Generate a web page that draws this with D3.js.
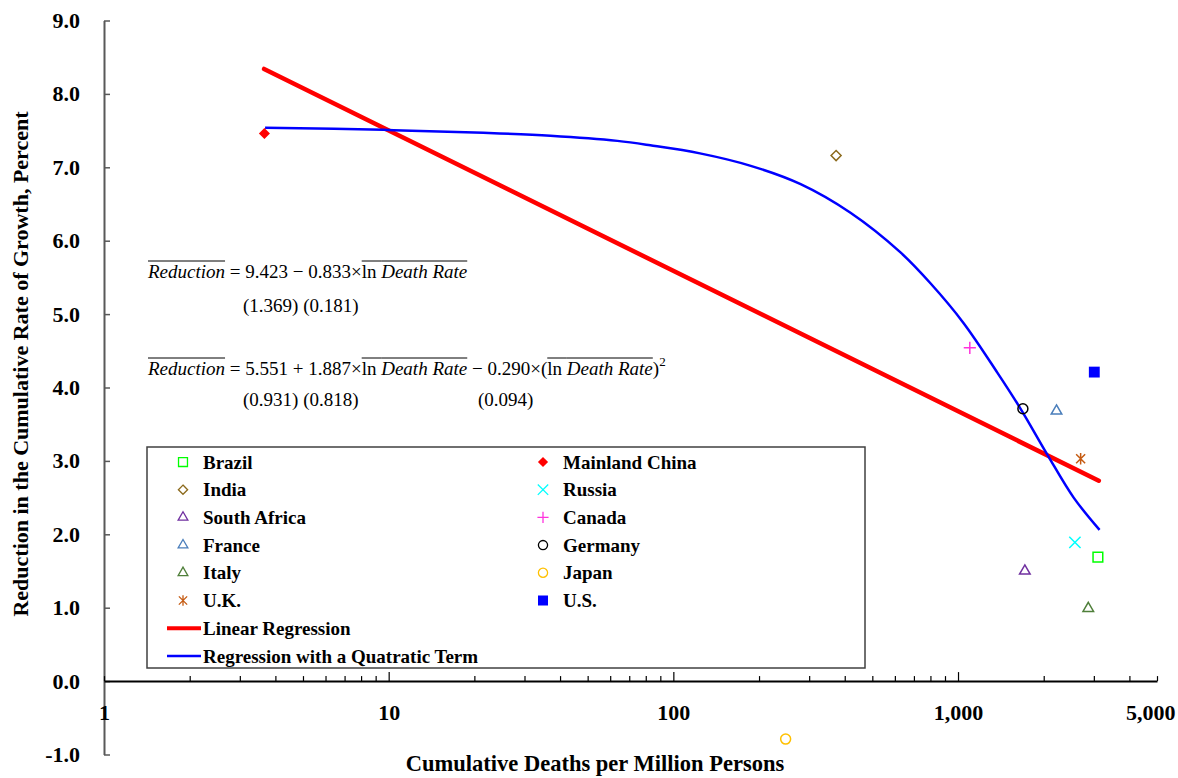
<!DOCTYPE html>
<html lang="en">
<head>
  <meta charset="UTF-8">
  <title>Reduction vs Cumulative Deaths</title>
  <script src="https://cdn.jsdelivr.net/npm/d3@7/dist/d3.min.js"></script>
  <style>
    body { margin: 0; background: #fff; }
    text { font-family: 'Liberation Serif', 'Times New Roman', serif; }
  </style>
</head>
<body>
  <div id="wrapper"></div>
  <script>
    // values
    const countries = ['Brazil', 'Mainland China', 'India', 'Russia', 'South Africa', 'Canada',
                       'France', 'Germany', 'Italy', 'Japan', 'U.K.', 'U.S.']
    const deathsPerMillion = [3100, 3.66, 373, 2574, 1717, 1100, 2218, 1690, 2868, 248, 2696, 3011]
    const reduction = [1.69, 7.46, 7.16, 1.89, 1.50, 4.54, 3.68, 3.71, 0.99, -0.79, 3.03, 4.21]

    // fitted lines
    const linearX = [3.65, 3123]
    const linearY = [8.34, 2.73]
    const quadX = [3.68, 9.56, 21.5, 37, 63.6, 83, 124, 187, 280, 419, 628, 800, 1045, 1376, 1659, 2064, 2548, 3142]
    const quadY = [7.54, 7.51, 7.47, 7.43, 7.36, 7.30, 7.19, 7.02, 6.77, 6.38, 5.84, 5.42, 4.88, 4.20, 3.71, 3.08, 2.50, 2.06]

    const yTicks = [-1, 0, 1, 2, 3, 4, 5, 6, 7, 8, 9]
    const xLabels = [1, 10, 100, 1000, 5000]
    const xMajor = [10, 100, 1000]

    // excel-style star: an X with a vertical bar
    const symbolStar = {
      draw(ctx, size) {
        const r = Math.sqrt(size) * 0.55
        const d = r * 0.78
        ctx.moveTo(0, -r); ctx.lineTo(0, r)
        ctx.moveTo(-d, -d); ctx.lineTo(d, d)
        ctx.moveTo(-d, d); ctx.lineTo(d, -d)
      }
    }

    const markerStyle = {
      'Brazil':         { symbol: d3.symbolSquare2,   size: 120, stroke: '#00ff00', fill: 'none' },
      'Mainland China': { symbol: d3.symbolDiamond2,  size: 78,  stroke: 'none',    fill: '#ff0000' },
      'India':          { symbol: d3.symbolDiamond2,  size: 64,  stroke: '#8c6a1c', fill: 'none' },
      'Russia':         { symbol: d3.symbolTimes,     size: 85,  stroke: '#00ffff', fill: 'none' },
      'South Africa':   { symbol: d3.symbolTriangle2, size: 80,  stroke: '#7030a0', fill: 'none' },
      'Canada':         { symbol: d3.symbolPlus,      size: 50,  stroke: '#ff33dd', fill: 'none' },
      'France':         { symbol: d3.symbolTriangle2, size: 80,  stroke: '#4a7ebb', fill: 'none' },
      'Germany':        { symbol: d3.symbolCircle,    size: 78,  stroke: '#000000', fill: 'none' },
      'Italy':          { symbol: d3.symbolTriangle2, size: 80,  stroke: '#4f7f3a', fill: 'none' },
      'Japan':          { symbol: d3.symbolCircle,    size: 78,  stroke: '#ffc000', fill: 'none' },
      'U.K.':           { symbol: symbolStar,         size: 110, stroke: '#c55a11', fill: 'none' },
      'U.S.':           { symbol: d3.symbolSquare,    size: 118, stroke: 'none',    fill: '#0000ff' }
    }

    const width = 1178
    const height = 778

    const svg = d3.select('#wrapper').append('svg')
      .attr('width', width)
      .attr('height', height)

    const x = d3.scaleLog().domain([1, 5000]).range([104, 1157])
    const y = d3.scaleLinear().domain([-1, 9]).range([754.5, 20.5])

    // y axis, ticks point inward, labels on the left
    const yAxis = svg.append('g')
      .attr('transform', `translate(${x(1)},0)`)
      .call(d3.axisLeft(y).tickValues(yTicks).tickSizeInner(-6).tickSizeOuter(0).tickPadding(24)
        .tickFormat(d => d.toFixed(1)))
    yAxis.select('.domain').attr('stroke', '#595959').attr('stroke-width', 2)
    yAxis.selectAll('.tick line').attr('stroke', '#595959').attr('stroke-width', 1.5)
    yAxis.selectAll('.tick text')
      .style('font-size', '22px').style('font-weight', 'bold').attr('fill', '#000')
      .attr('font-family', null)

    // x axis at zero
    const xAxis = svg.append('g')
      .attr('transform', `translate(0,${y(0)})`)
      .call(d3.axisBottom(x).tickValues(x.ticks()).tickSizeInner(-5).tickSizeOuter(0).tickPadding(23)
        .tickFormat(d => xLabels.includes(d) ? d3.format(',')(d) : ''))
    xAxis.select('.domain').attr('stroke', '#000').attr('stroke-width', 2)
    xAxis.selectAll('.tick line').attr('stroke', '#000').attr('stroke-width', 1.2)
      .filter(d => xMajor.includes(d)).attr('y2', -9)
    xAxis.selectAll('.tick text')
      .style('font-size', '22px').style('font-weight', 'bold').attr('fill', '#000')
      .attr('font-family', null)
    // last label sits inside the page
    xAxis.selectAll('.tick text').filter(d => d === 5000)
      .attr('text-anchor', 'end').attr('x', 18)

    // axis titles
    svg.append('text')
      .attr('x', 595).attr('y', 771)
      .attr('text-anchor', 'middle')
      .style('font-size', '22.5px').style('font-weight', 'bold')
      .text('Cumulative Deaths per Million Persons')

    svg.append('text')
      .attr('transform', 'translate(20,364) rotate(-90)')
      .attr('text-anchor', 'middle')
      .attr('dy', '0.35em')
      .style('font-size', '22px').style('font-weight', 'bold')
      .text('Reduction in the Cumulative Rate of Growth, Percent')

    // regression lines
    const line = d3.line().x(d => x(d[0])).y(d => y(d[1]))
    svg.append('path')
      .attr('d', line(d3.zip(linearX, linearY)))
      .attr('fill', 'none').attr('stroke', '#ff0000').attr('stroke-width', 4.5)
      .attr('stroke-linecap', 'round')

    svg.append('path')
      .attr('d', line.curve(d3.curveCatmullRom.alpha(0.5))(d3.zip(quadX, quadY)))
      .attr('fill', 'none').attr('stroke', '#0000ff').attr('stroke-width', 2.5)

    // points
    const sym = d3.symbol()
    svg.append('g').selectAll('path')
      .data(countries)
      .join('path')
      .attr('transform', (d, i) => `translate(${x(deathsPerMillion[i])},${y(reduction[i])})`)
      .attr('d', d => sym.type(markerStyle[d].symbol).size(markerStyle[d].size)())
      .attr('fill', d => markerStyle[d].fill)
      .attr('stroke', d => markerStyle[d].stroke)
      .attr('stroke-width', 1.5)

    // equations
    function drawEquation(px, py, parts) {
      const g = svg.append('g')
      let cursor = px
      parts.forEach(p => {
        const t = g.append('text')
          .attr('x', cursor)
          .attr('y', p.sup ? py - 9 : py)
          .style('font-size', p.sup ? '13px' : '19px')
          .style('font-style', p.it ? 'italic' : 'normal')
          .style('white-space', 'pre')
          .text(p.t)
        const w = t.node().getComputedTextLength()
        if (p.ol) {
          g.append('line')
            .attr('x1', cursor).attr('x2', cursor + w)
            .attr('y1', py - 17).attr('y2', py - 17)
            .attr('stroke', '#000').attr('stroke-width', 1)
        }
        cursor += w
      })
    }

    drawEquation(148, 278, [
      { t: 'Reduction', it: true, ol: true },
      { t: ' = 9.423 \u2212 0.833\u00d7' },
      { t: 'ln ', ol: true },
      { t: 'Death Rate', it: true, ol: true }
    ])
    drawEquation(243, 312, [{ t: '(1.369) (0.181)' }])

    drawEquation(148, 375, [
      { t: 'Reduction', it: true, ol: true },
      { t: ' = 5.551 + 1.887\u00d7' },
      { t: 'ln ', ol: true },
      { t: 'Death Rate', it: true, ol: true },
      { t: ' \u2212 0.290\u00d7(' },
      { t: 'ln ', ol: true },
      { t: 'Death Rate', it: true, ol: true },
      { t: ')' },
      { t: '2', sup: true }
    ])
    drawEquation(243, 406, [{ t: '(0.931) (0.818)' }])
    drawEquation(478, 406, [{ t: '(0.094)' }])

    // legend
    const legend = svg.append('g')
    legend.append('rect')
      .attr('x', 147).attr('y', 447).attr('width', 718).attr('height', 221)
      .attr('fill', 'none').attr('stroke', '#404040').attr('stroke-width', 1.5)

    const rowY = i => 462 + i * 27.7
    const item = legend.selectAll('g.item')
      .data(countries)
      .join('g')
      .attr('class', 'item')
      .attr('transform', (d, i) => `translate(${i % 2 === 0 ? 183 : 543},${rowY(Math.floor(i / 2))})`)
    item.append('path')
      .attr('d', d => sym.type(markerStyle[d].symbol).size(markerStyle[d].size * 0.85)())
      .attr('fill', d => markerStyle[d].fill)
      .attr('stroke', d => markerStyle[d].stroke)
      .attr('stroke-width', 1.3)
    item.append('text')
      .attr('x', 20).attr('dy', '0.35em')
      .style('font-size', '19px').style('font-weight', 'bold')
      .text(d => d)

    const fitLegend = [
      { label: 'Linear Regression', color: '#ff0000', w: 4 },
      { label: 'Regression with a Quatratic Term', color: '#0000ff', w: 2.5 }
    ]
    fitLegend.forEach((f, j) => {
      const yy = rowY(6 + j)
      legend.append('line')
        .attr('x1', 167).attr('x2', 201).attr('y1', yy).attr('y2', yy)
        .attr('stroke', f.color).attr('stroke-width', f.w)
      legend.append('text')
        .attr('x', 203).attr('y', yy).attr('dy', '0.35em')
        .style('font-size', '19px').style('font-weight', 'bold')
        .text(f.label)
    })
  </script>
</body>
</html>
